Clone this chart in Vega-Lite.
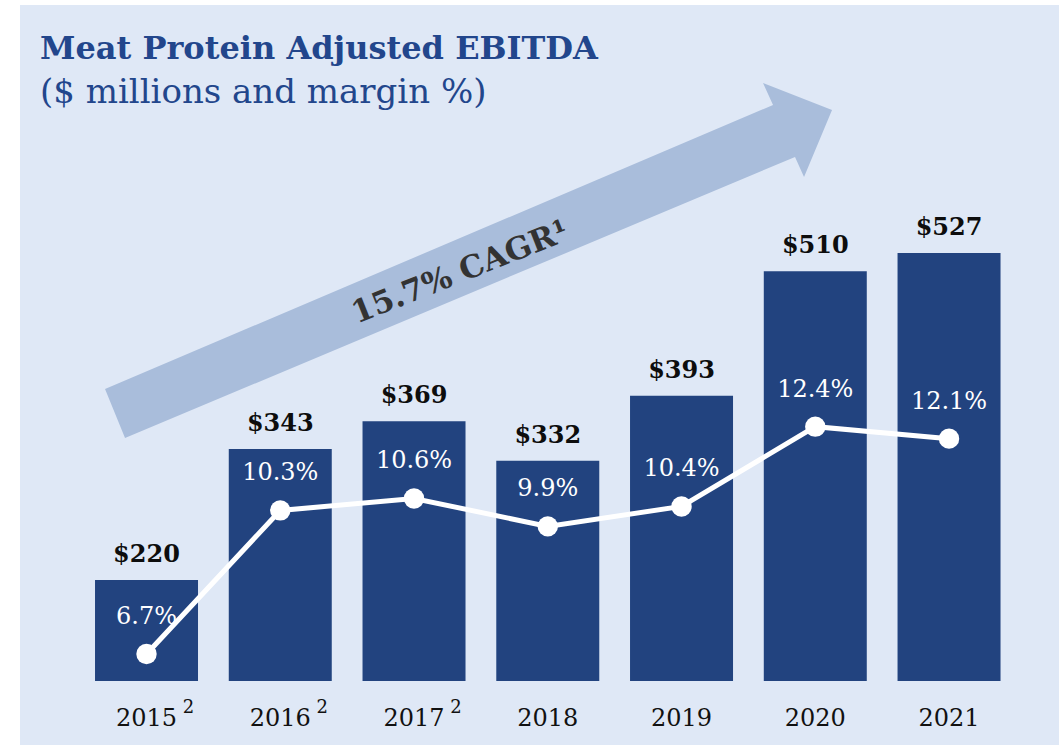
{
  "$schema": "https://vega.github.io/schema/vega-lite/v6.json",
  "width": 1039,
  "height": 740,
  "autosize": {"type": "none"},
  "padding": {"left": 20, "top": 5, "right": 0, "bottom": 0},
  "background": "#ffffff",
  "config": {"view": {"fill": "#dfe8f6", "stroke": null}},
  "title": {
    "text": "Meat Protein Adjusted EBITDA",
    "subtitle": "($ millions and margin %)",
    "anchor": "start",
    "frame": "group",
    "orient": "top",
    "offset": -106,
    "dx": 20,
    "font": "DejaVu Serif",
    "fontSize": 32,
    "fontWeight": "bold",
    "color": "#22468c",
    "subtitleFont": "DejaVu Serif",
    "subtitleFontSize": 34,
    "subtitleColor": "#22468c",
    "subtitlePadding": 10
  },
  "data": {
    "values": [
      {"year": "2015", "ebitda": 220, "margin": 0.067, "note": "2"},
      {"year": "2016", "ebitda": 343, "margin": 0.103, "note": "2"},
      {"year": "2017", "ebitda": 369, "margin": 0.106, "note": "2"},
      {"year": "2018", "ebitda": 332, "margin": 0.099, "note": ""},
      {"year": "2019", "ebitda": 393, "margin": 0.104, "note": ""},
      {"year": "2020", "ebitda": 510, "margin": 0.124, "note": ""},
      {"year": "2021", "ebitda": 527, "margin": 0.121, "note": ""}
    ]
  },
  "encoding": {
    "x": {
      "field": "year",
      "type": "nominal",
      "sort": null,
      "scale": {
        "domain": ["2015", "2016", "2017", "2018", "2019", "2020", "2021"],
        "paddingInner": 0.23,
        "paddingOuter": 0.499,
        "align": 0.562
      },
      "axis": {
        "title": null,
        "domain": false,
        "ticks": false,
        "labelAngle": 0,
        "offset": -27,
        "labelPadding": 0,
        "labelBaseline": "middle",
        "labelFont": "DejaVu Serif",
        "labelFontSize": 24,
        "labelColor": "#111111"
      }
    }
  },
  "layer": [
    {
      "data": {"values": [{"shape": "arrow"}]},
      "mark": {
        "type": "point",
        "shape": "M-442.75,-37.7L225.25,-321.7L215.25,-343.7L284.25,-316.7L256.25,-249.7L247.25,-269.7L-422.75,11.3Z",
        "size": 4,
        "filled": true,
        "opacity": 1,
        "color": "#a9bddb",
        "strokeWidth": 0
      },
      "encoding": {
        "x": {"datum": "2018"},
        "y": {"datum": 0.124, "type": "quantitative", "scale": {"domain": [0.04418, 0.22974]}, "axis": null}
      }
    },
    {
      "data": {"values": [{"t": "15.7% CAGR¹"}]},
      "mark": {
        "type": "text",
        "angle": -21.6,
        "dx": -24.6,
        "dy": -175,
        "font": "DejaVu Serif",
        "fontWeight": "bold",
        "fontSize": 31,
        "color": "#333333",
        "baseline": "middle",
        "align": "center"
      },
      "encoding": {
        "x": {"datum": "2018"},
        "y": {"datum": 0.124, "type": "quantitative", "scale": {"domain": [0.04418, 0.22974]}, "axis": null},
        "text": {"field": "t"}
      }
    },
    {
      "mark": {"type": "bar", "color": "#22437f"},
      "encoding": {
        "y": {"field": "ebitda", "type": "quantitative", "scale": {"domain": [65.1, 759.9]}, "axis": null},
        "y2": {"datum": 125.2}
      }
    },
    {
      "mark": {"type": "text", "font": "DejaVu Serif", "fontWeight": "bold", "fontSize": 24, "color": "#0d0d0d", "baseline": "middle", "dy": -25},
      "encoding": {
        "y": {"field": "ebitda", "type": "quantitative", "scale": {"domain": [65.1, 759.9]}, "axis": null},
        "text": {"field": "ebitda", "type": "quantitative", "format": "$,.0f"}
      }
    },
    {
      "mark": {"type": "text", "font": "DejaVu Serif", "fontSize": 18, "color": "#111111", "baseline": "middle", "dx": 42},
      "encoding": {
        "y": {"datum": 99.4, "type": "quantitative", "scale": {"domain": [65.1, 759.9]}, "axis": null},
        "text": {"field": "note"}
      }
    },
    {
      "mark": {"type": "line", "color": "#ffffff", "strokeWidth": 5},
      "encoding": {
        "y": {"field": "margin", "type": "quantitative", "scale": {"domain": [0.04418, 0.22974]}, "axis": null}
      }
    },
    {
      "mark": {"type": "point", "shape": "circle", "filled": true, "opacity": 1, "color": "#ffffff", "size": 415},
      "encoding": {
        "y": {"field": "margin", "type": "quantitative", "scale": {"domain": [0.04418, 0.22974]}, "axis": null}
      }
    },
    {
      "mark": {"type": "text", "font": "DejaVu Serif", "fontSize": 24, "color": "#ffffff", "baseline": "middle", "dy": -37},
      "encoding": {
        "y": {"field": "margin", "type": "quantitative", "scale": {"domain": [0.04418, 0.22974]}, "axis": null},
        "text": {"field": "margin", "type": "quantitative", "format": ".1%"}
      }
    }
  ],
  "resolve": {"scale": {"y": "independent"}}
}
